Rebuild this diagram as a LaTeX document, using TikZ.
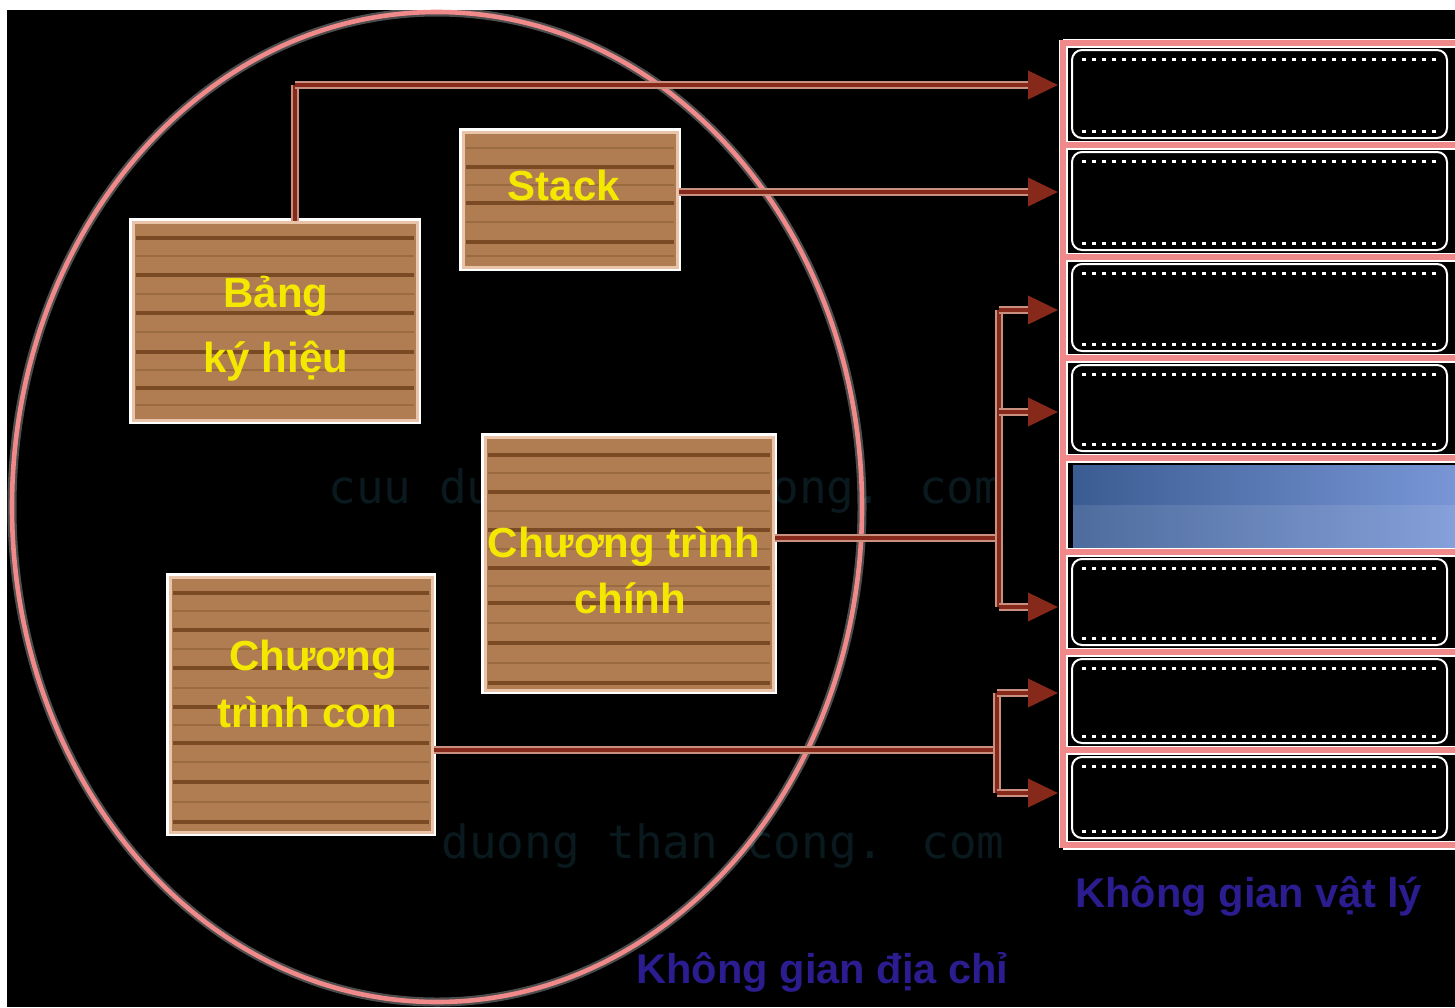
\documentclass[tikz,border=0pt]{standalone}
\usepackage{fontspec}
\setmainfont{Liberation Sans}
\newfontfamily\wmfont{DejaVu Sans Mono}
\usetikzlibrary{arrows.meta}
\definecolor{wood}{HTML}{B07C52}
\definecolor{woodline}{HTML}{7A4A24}
\definecolor{woodfaint}{HTML}{9A6A40}
\definecolor{woodedge}{HTML}{EAC4A8}
\definecolor{woodtext}{HTML}{F4E800}
\definecolor{pinkline}{HTML}{F08A8A}
\definecolor{arrowdark}{HTML}{86281A}
\definecolor{arrowlight}{HTML}{C99080}
\definecolor{labelblue}{HTML}{2B1C8F}
\definecolor{wmcol}{HTML}{09191E}
\definecolor{blueA}{HTML}{3A5C92}
\definecolor{blueB}{HTML}{7896D6}
\tikzset{
  woodbox/.style={fill=wood, draw=woodedge, line width=1.5pt, inner sep=0pt,
    preaction={draw=white, line width=4pt}},
  woodln/.style={draw=woodline, line width=2pt},
  woodfl/.style={draw=woodfaint, line width=1pt},
  woodtxt/.style={text=woodtext, font=\bfseries\fontsize{21pt}{25pt}\selectfont, inner sep=0pt, anchor=base},
  lbl/.style={text=labelblue, font=\bfseries\fontsize{20.8pt}{24pt}\selectfont, inner sep=0pt, anchor=base west},
  wm/.style={text=wmcol, font=\wmfont\fontsize{23pt}{27pt}\selectfont, inner sep=0pt, anchor=base west},
  connlight/.style={draw=arrowlight, line width=4pt},
  conndark/.style={draw=arrowdark, line width=2pt},
  tipped/.style={-{Triangle[length=15pt,width=14pt]}},
  pinkhalo/.style={draw=white, line width=4.5pt},
  pinkln/.style={draw=pinkline, line width=3pt},
  frameln/.style={draw=white, line width=1pt, rounded corners=5pt},
  framedot/.style={draw=white, line width=1.5pt, dash pattern=on 2pt off 3pt},
}
\newcommand\myconn[1]{\draw[connlight, shorten >=13pt] #1; \draw[conndark, tipped] #1;}
\newcommand\myline[1]{\draw[connlight] #1; \draw[conndark] #1;}
\begin{document}
\begin{tikzpicture}[x=0.5pt,y=-0.5pt]
\useasboundingbox (0,0) rectangle (1455,1007);
\fill[white] (0,0) rectangle (1455,1007);
\fill[black] (7,10) rectangle (1455,1007);

% watermark
\node[wm] (wm1) at (328,503) {cuu duong than cong. com};
\node[wm] (wm2) at (441,858) {duong than cong. com};

% physical memory frames
\foreach \ta/\tb in {43/145,145/257,257/358,358/458,552/652,652/750,750/845}{
  \draw[frameln] (1072,\ta+7) rectangle (1447,\tb-7);
  \draw[framedot] (1082,\ta+16) -- (1440,\ta+16);
  \draw[framedot] (1082,\tb-14) -- (1440,\tb-14);
}
\shade[left color=blueA, right color=blueB] (1073,465) rectangle (1455,548);
\fill[white, opacity=0.10] (1073,505) rectangle (1455,548);
\foreach \yy in {43,145,257,358,458,552,652,750,845}{
  \draw[pinkhalo] (1063,\yy) -- (1455,\yy);
}
\draw[pinkhalo] (1063,40) -- (1063,848);
\foreach \yy in {43,145,257,358,458,552,652,750,845}{
  \draw[pinkln] (1063,\yy) -- (1455,\yy);
}
\draw[pinkln] (1063,40) -- (1063,848);

% address space ellipse
\draw[white, opacity=0.3, line width=4.5pt] (437,507) ellipse [x radius=425, y radius=495];
\draw[pinkline, line width=2.3pt] (437,507) ellipse [x radius=425, y radius=495];

% wooden boxes
\node[woodbox, minimum width=142pt, minimum height=99pt] (bang) at (275,321) {};
\node[woodbox, minimum width=107pt, minimum height=67.5pt] (stack) at (570,199.5) {};
\node[woodbox, minimum width=144pt, minimum height=126.5pt] (chinh) at (629,563.5) {};
\node[woodbox, minimum width=131pt, minimum height=127.5pt] (con) at (301,704.5) {};

\foreach \yy in {238,275,313,352,388} \draw[woodln] (136,\yy) -- (414,\yy);
\foreach \yy in {256,294,332,370,405} \draw[woodfl] (136,\yy) -- (414,\yy);
\foreach \yy in {167,203,242} \draw[woodln] (466,\yy) -- (674,\yy);
\foreach \yy in {148,185,222,256} \draw[woodfl] (466,\yy) -- (674,\yy);
\foreach \yy in {455,492,530,568,603,643,683} \draw[woodln] (488,\yy) -- (770,\yy);
\foreach \yy in {473,511,549,586,623,663} \draw[woodfl] (488,\yy) -- (770,\yy);
\foreach \yy in {593,630,668,707,743,782,822} \draw[woodln] (173,\yy) -- (429,\yy);
\foreach \yy in {611,649,688,725,762,802} \draw[woodfl] (173,\yy) -- (429,\yy);

\node[woodtxt] (bangA) at (276,307) {Bảng};
\node[woodtxt] (bangB) at (276,372) {ký hiệu};
\node[woodtxt] (stackA) at (564,200) {Stack};
\node[woodtxt] (chinhA) at (624,557) {Chương trình};
\node[woodtxt] (chinhB) at (630,613) {chính};
\node[woodtxt] (conA) at (313,670) {Chương};
\node[woodtxt] (conB) at (307,727) {trình con};

% connector coordinates
\coordinate (t1) at (1058,85);
\coordinate (t2) at (1058,192);
\coordinate (j1) at (999,538);
\coordinate (ja) at (999,310);
\coordinate (jm) at (999,412);
\coordinate (jb) at (999,607);
\coordinate (t3) at (1058,310);
\coordinate (t4) at (1058,412);
\coordinate (t5) at (1058,607);
\coordinate (k1) at (997,750);
\coordinate (ka) at (997,693);
\coordinate (kb) at (997,793);
\coordinate (t6) at (1058,693);
\coordinate (t7) at (1058,793);

\myline{([xshift=10pt]bang.north) -- ([xshift=10pt]bang.north |- t1)}
\myline{(chinh.east |- j1) -- (j1)}
\myline{(ja) -- (jb)}
\myline{(con.east |- k1) -- (k1)}
\myline{(ka) -- (kb)}
\myconn{([xshift=10pt]bang.north |- t1) -- (t1)}
\myconn{(stack.east |- t2) -- (t2)}
\myconn{(ja) -- (t3)}
\myconn{(jm) -- (t4)}
\myconn{(jb) -- (t5)}
\myconn{(ka) -- (t6)}
\myconn{(kb) -- (t7)}

% labels
\node[lbl] (vatly) at (1075,907) {Không gian vật lý};
\node[lbl] (diachi) at (636,983) {Không gian địa chỉ};
\end{tikzpicture}
\end{document}
